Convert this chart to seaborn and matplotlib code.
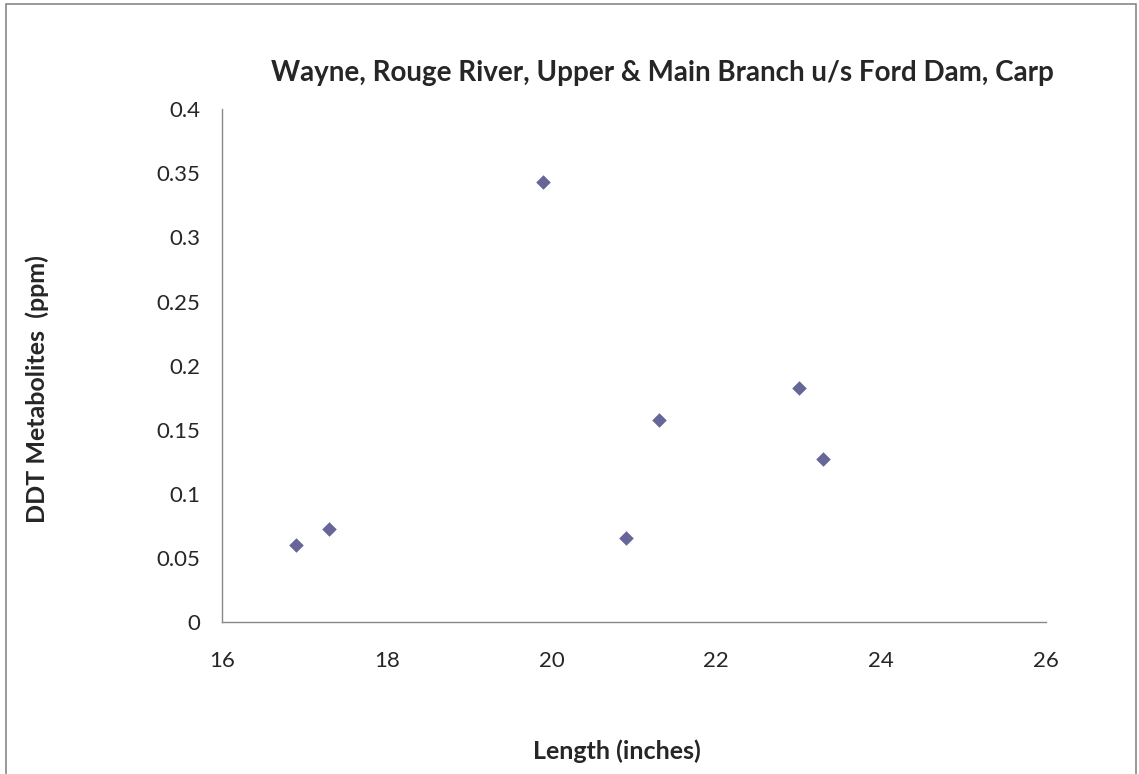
import pandas as pd
import matplotlib.pyplot as plt
import seaborn as sns
from matplotlib.patches import Rectangle

# Carp samples, Rouge River
length_in = [16.9, 17.3, 19.9, 20.9, 21.3, 23.0, 23.3]
ddt_ppm = [0.060, 0.073, 0.343, 0.066, 0.158, 0.183, 0.127]

x_ticks = [16, 18, 20, 22, 24, 26]
y_ticks = [0, 0.05, 0.1, 0.15, 0.2, 0.25, 0.3, 0.35, 0.4]
y_tick_labels = ["0", "0.05", "0.1", "0.15", "0.2", "0.25", "0.3", "0.35", "0.4"]

title = "Wayne, Rouge River, Upper & Main Branch u/s Ford Dam, Carp"

sns.set_style("white")
plt.rcParams['font.family'] = ['Lato', 'DejaVu Sans']

df = pd.DataFrame({"Length": length_in, "DDT": ddt_ppm})

fig = plt.figure(figsize=(11.39, 7.74), dpi=100)
ax = fig.add_axes([0.195, 0.196, 0.723, 0.663])

sns.scatterplot(data=df, x="Length", y="DDT", marker="D", s=55,
                color="#666699", edgecolor="#666699", linewidth=0, ax=ax)

ax.set_xlim(16, 26)
ax.set_ylim(0, 0.4)
ax.set_xticks(x_ticks)
ax.set_yticks(y_ticks)
ax.set_yticklabels(y_tick_labels)
ax.tick_params(axis="both", direction="out", length=7, width=1,
               color="#888888", labelsize=16, pad=9)
ax.tick_params(axis="x", pad=14)

for side in ["top", "right"]:
    ax.spines[side].set_visible(False)
for side in ["left", "bottom"]:
    ax.spines[side].set_color("#888888")
    ax.spines[side].set_linewidth(1)

ax.set_xlabel("")
ax.set_ylabel("")
fig.text(0.542, 0.030, "Length (inches)", ha="center", va="center",
         fontsize=18, fontweight="bold")
fig.text(0.033, 0.497, "DDT Metabolites  (ppm)", ha="center", va="center",
         rotation=90, fontsize=18, fontweight="bold")
fig.text(0.582, 0.906, title, ha="center", va="center",
         fontsize=20, fontweight="bold")

# chart-area border
fig.patches.append(Rectangle((0.005, -0.01), 0.992, 1.005, transform=fig.transFigure,
                             fill=False, edgecolor="#888888", linewidth=1.2))

fig.savefig("out.png", dpi=100)
